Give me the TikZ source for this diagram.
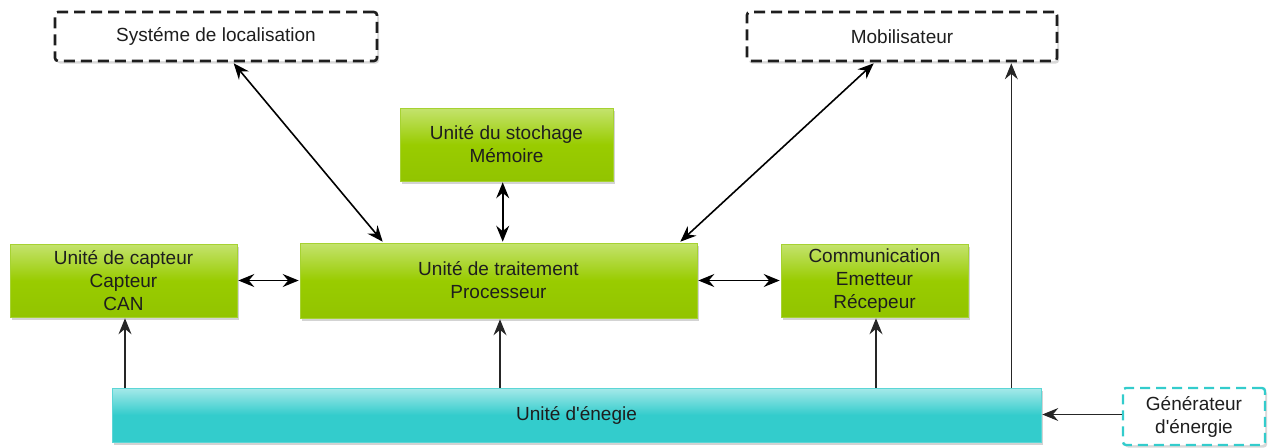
\documentclass[tikz,border=0pt]{standalone}
\usepackage{fontspec}
\setmainfont{Liberation Sans}
\usetikzlibrary{arrows.meta,calc,shadows}
\definecolor{limelo}{HTML}{92C400}
\definecolor{limemid}{HTML}{99CC00}
\definecolor{limehi}{HTML}{C4E36E}
\definecolor{limeedge}{HTML}{A6D232}
\definecolor{tealhi}{HTML}{A6E9E9}
\definecolor{teallo}{HTML}{33CCCC}
\definecolor{inkgray}{HTML}{1E1E1E}
\tikzset{
  tip/.tip={Stealth[length=16pt,width=13pt,inset=5.5pt]},
  txt/.style={font=\fontsize{19}{23}\selectfont, text=inkgray, align=center},
  unitbox/.style={txt, draw=limeedge, line width=0.6pt, top color=limehi, bottom color=limelo,
    middle color=limemid, inner sep=0pt,
    drop shadow={opacity=0.35, shadow xshift=2pt, shadow yshift=-2.5pt}},
  extbox/.style={txt, draw=inkgray, fill=white, line width=2.6pt,
    dash pattern=on 11pt off 6pt, rounded corners=3pt, inner sep=0pt,
    drop shadow={opacity=0.3, shadow xshift=2pt, shadow yshift=-2.5pt}},
  powerbox/.style={txt, draw=teallo!80!white, line width=0.6pt, top color=tealhi, bottom color=teallo,
    middle color=teallo, inner sep=0pt,
    drop shadow={opacity=0.35, shadow xshift=2pt, shadow yshift=-2.5pt}},
  genbox/.style={txt, draw=teallo, fill=white, line width=2.4pt,
    dash pattern=on 10pt off 6pt, rounded corners=3pt, inner sep=0pt,
    drop shadow={opacity=0.3, shadow xshift=2pt, shadow yshift=-2.5pt}},
  link/.style={line width=1.6pt, draw=black, tip-tip},
  feed/.style={line width=1.1pt, draw=black!85, -tip}
}
\begin{document}
\begin{tikzpicture}[x=1pt,y=-1pt]
\useasboundingbox (0,0) rectangle (1271,447);

% external systems
\node[extbox, minimum width=322pt, minimum height=49pt] (loc) at (216,36.5) {Systéme de localisation};
\node[extbox, minimum width=310pt, minimum height=49pt] (mob) at (902,36.5) {Mobilisateur};

% node units
\node[unitbox, minimum width=213pt, minimum height=73pt] (mem) at (506.5,144.5) {Unité du stochage\\Mémoire};
\node[unitbox, minimum width=397pt, minimum height=75pt] (proc) at (498.5,280.5) {Unité de traitement\\Processeur};
\node[unitbox, minimum width=227pt, minimum height=73pt] (cap) at (123.5,280.5) {Unité de capteur\\Capteur\\CAN};
\node[unitbox, minimum width=187pt, minimum height=73pt] (com) at (874.5,280.5) {Communication\\Emetteur\\Récepeur};

% power
\node[powerbox, minimum width=929pt, minimum height=54pt] (nrj) at (576.5,415) {Unité d\textquotesingle énegie};
\node[genbox, minimum width=142pt, minimum height=57pt] (gen) at (1194,416.5) {Générateur\\d\textquotesingle énergie};

% data links
\draw[link] ($(loc.south west)+(180,1)$) -- ($(proc.north west)+(83,-1)$);
\draw[link] ($(mob.south west)+(128,1)$) -- ($(proc.north east)+(-17,-1)$);
\draw[link] ($(mem.south west)+(103,1)$) -- ($(proc.north west)+(203,-1)$);
\draw[link] ($(cap.east)+(1,0)$) -- ($(proc.west)+(-1,0)$);
\draw[link] ($(proc.east)+(1,0)$) -- ($(com.west)+(-1,0)$);

% power feeds
\coordinate (capin) at ($(cap.south)+(1.5,1)$);
\coordinate (procin) at ($(proc.south)+(1.5,1)$);
\coordinate (comin) at ($(com.south)+(1.5,1)$);
\coordinate (mobin) at ($(mob.south east)+(-47,1)$);
\coordinate (genout) at ($(gen.west)+(0,-2)$);
\draw[feed] (capin |- nrj.north) -- (capin);
\draw[feed] (procin |- nrj.north) -- (procin);
\draw[feed] (comin |- nrj.north) -- (comin);
\draw[feed] (mobin |- nrj.north) -- (mobin);
\draw[feed] (genout) -- ($(genout -| nrj.east)+(1,0)$);
\end{tikzpicture}
\end{document}
